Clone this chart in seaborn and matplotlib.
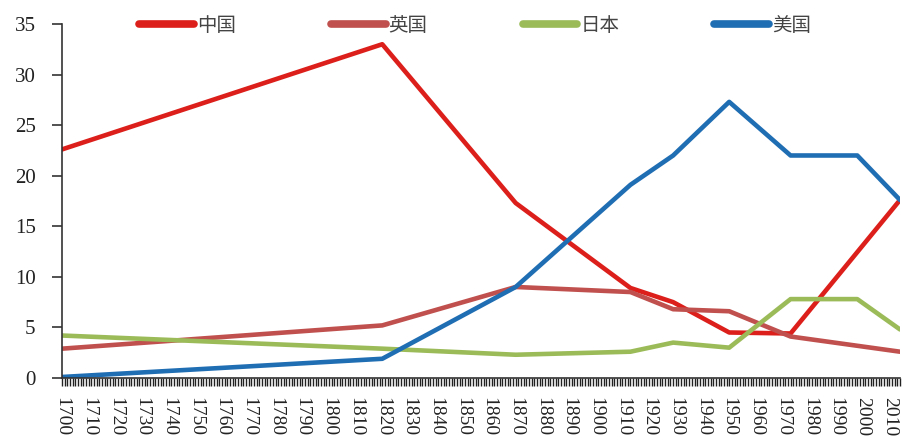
import matplotlib
matplotlib.use("Agg")
import matplotlib.pyplot as plt
from matplotlib.ticker import MultipleLocator, FixedLocator
import seaborn as sns
import pandas as pd

# Share of world GDP (%) by country, selected benchmark years
china_years = [1700, 1820, 1870, 1913, 1929, 1950, 1973, 2014]
china_share = [22.6, 33.0, 17.3, 8.9, 7.5, 4.5, 4.4, 17.6]

uk_years = [1700, 1820, 1870, 1913, 1929, 1950, 1973, 2014]
uk_share = [2.9, 5.2, 9.0, 8.5, 6.8, 6.6, 4.1, 2.6]

japan_years = [1700, 1820, 1870, 1913, 1929, 1950, 1973, 1998, 2014]
japan_share = [4.2, 2.9, 2.3, 2.6, 3.5, 3.0, 7.8, 7.8, 4.8]

us_years = [1700, 1820, 1870, 1913, 1929, 1950, 1973, 1998, 2014]
us_share = [0.1, 1.9, 9.0, 19.1, 22.0, 27.3, 22.0, 22.0, 17.6]

countries = ["中国", "英国", "日本", "美国"]
colors = ["#dc1f1a", "#c0504d", "#9bbb59", "#1f6db3"]

frames = []
for name, yrs, vals in [("中国", china_years, china_share),
                        ("英国", uk_years, uk_share),
                        ("日本", japan_years, japan_share),
                        ("美国", us_years, us_share)]:
    frames.append(pd.DataFrame({"year": yrs, "share": vals, "country": name}))
df = pd.concat(frames, ignore_index=True)

sns.set_style("white")
plt.rcParams["font.family"] = ["Noto Sans CJK SC", "DejaVu Sans"]

fig = plt.figure(figsize=(9.02, 4.41), dpi=100)
ax = fig.add_axes([62 / 902, 1 - 378 / 441, 838 / 902, 354 / 441])

sns.lineplot(data=df, x="year", y="share", hue="country", hue_order=countries,
             palette=dict(zip(countries, colors)), linewidth=3.3, sort=False,
             estimator=None, ax=ax, legend=False)

ax.set_xlim(1700, 2014)
ax.set_ylim(0, 35)
ax.set_xlabel("")
ax.set_ylabel("")

ax.yaxis.set_major_locator(MultipleLocator(5))
ax.xaxis.set_major_locator(FixedLocator(list(range(1700, 2011, 10))))
ax.xaxis.set_minor_locator(MultipleLocator(1))

for s in ["top", "right"]:
    ax.spines[s].set_visible(False)
for s in ["left", "bottom"]:
    ax.spines[s].set_color("#333333")
    ax.spines[s].set_linewidth(1.2)

serif = ["Liberation Serif", "DejaVu Serif"]
ax.tick_params(axis="y", direction="out", length=7, width=1.2, color="#333333",
               pad=12, labelsize=15, labelcolor="#222222", left=True)
ax.tick_params(axis="x", which="both", direction="out", length=6, width=1.0,
               color="#222222", bottom=True)
ax.tick_params(axis="x", which="major", pad=8, labelsize=14, labelcolor="#222222")
for lab in ax.get_yticklabels():
    lab.set_fontfamily(serif)
ax.set_xticks(list(range(1700, 2011, 10)))
ax.set_xticklabels([str(y) for y in range(1700, 2011, 10)], rotation=-90,
                   ha="center", va="top", family=serif)

handles = [plt.Line2D([], [], color=c, linewidth=5.5, solid_capstyle="round")
           for c in colors]
leg = ax.legend(handles, countries, loc="center", bbox_to_anchor=(0.493, 0.995),
                ncol=4, frameon=False, handlelength=2.8, handletextpad=0.15,
                columnspacing=4.9, fontsize=14, borderaxespad=0)
for t in leg.get_texts():
    t.set_color("#444444")

fig.savefig("out.png", dpi=100, facecolor="white")
